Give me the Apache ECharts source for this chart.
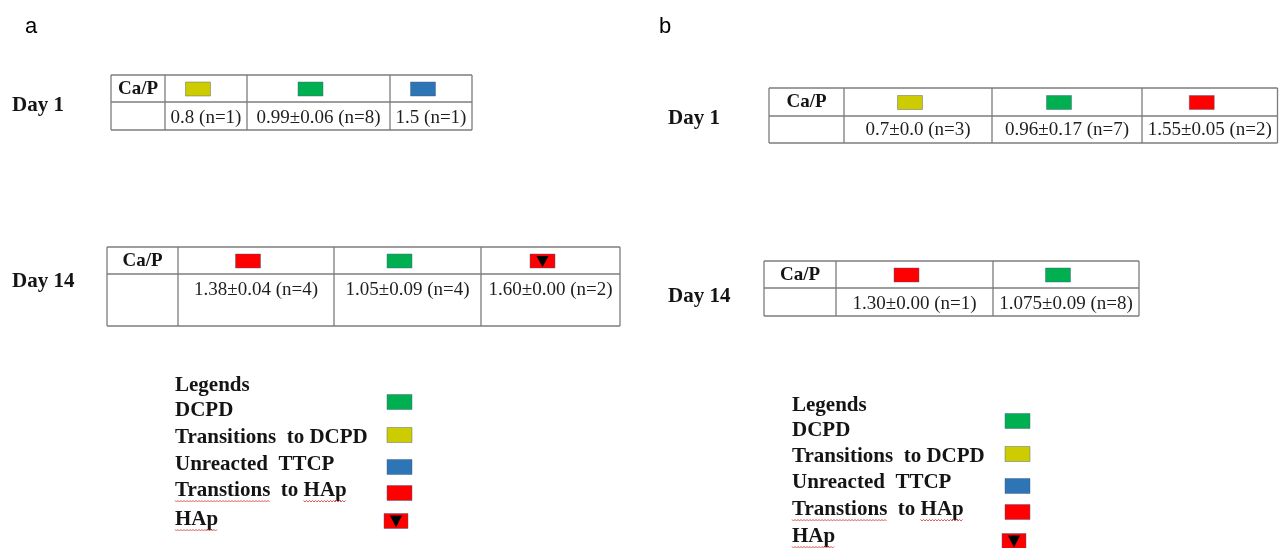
<!DOCTYPE html>
<html>
<head>
<meta charset="utf-8">
<script src="https://cdn.jsdelivr.net/npm/echarts@6/dist/echarts.min.js"></script>
<style>
  html, body { margin: 0; padding: 0; background: #ffffff; }
  #chart { width: 1279px; height: 548px; }
</style>
</head>
<body>
<div id="chart"></div>
<script>
// Calcium phosphate phases, in legend order
const phaseNames = ['DCPD', 'Transitions  to DCPD', 'Unreacted  TTCP', 'Transtions  to HAp', 'HAp'];
const phaseColors = ['#00b050', '#cccc00', '#2e75b6', '#ff0000', '#ff0000'];
const phaseHasMarker = [false, false, false, false, true];

// Panel a: Ca/P ratios per phase
const aDay1Phases = ['Transitions  to DCPD', 'DCPD', 'Unreacted  TTCP'];
const aDay1Ratios = ['0.8 (n=1)', '0.99±0.06 (n=8)', '1.5 (n=1)'];
const aDay14Phases = ['Transtions  to HAp', 'DCPD', 'HAp'];
const aDay14Ratios = ['1.38±0.04 (n=4)', '1.05±0.09 (n=4)', '1.60±0.00 (n=2)'];

// Panel b: Ca/P ratios per phase
const bDay1Phases = ['Transitions  to DCPD', 'DCPD', 'Transtions  to HAp'];
const bDay1Ratios = ['0.7±0.0 (n=3)', '0.96±0.17 (n=7)', '1.55±0.05 (n=2)'];
const bDay14Phases = ['Transtions  to HAp', 'DCPD'];
const bDay14Ratios = ['1.30±0.00 (n=1)', '1.075±0.09 (n=8)'];

// Headings
const panelTags = ['a', 'b'];
const dayLabels = ['Day 1', 'Day 14', 'Day 1', 'Day 14'];
const headerLabel = 'Ca/P';
const legendTitle = 'Legends';

// ---------- drawing ----------
const SERIF = '"Liberation Serif", "Times New Roman", serif';
const SANS = '"Liberation Sans", Arial, sans-serif';
const FONT_BOLD = 'bold 21px ' + SERIF;
const FONT_HEAD = 'bold 19px ' + SERIF;
const FONT_CELL = '19px ' + SERIF;
const INK = '#141414';
const GRID = '#7c7c7c';

const measureCtx = document.createElement('canvas').getContext('2d');
function textWidth(s, font) { measureCtx.font = font; return measureCtx.measureText(s).width; }

function text(x, y, s, font, align, fill) {
  return {
    type: 'text', x: x, y: y, silent: true,
    style: {
      text: s, font: font, fill: fill || INK,
      textAlign: align || 'left', textVerticalAlign: 'middle',
      align: align || 'left', verticalAlign: 'middle'
    }
  };
}
function line(x1, y1, x2, y2) {
  return { type: 'line', silent: true, shape: { x1: x1, y1: y1, x2: x2, y2: y2 },
           style: { stroke: GRID, lineWidth: 1.3 } };
}
function swatch(x, cy, w, h, phase) {
  const i = phaseNames.indexOf(phase);
  const y = cy - h / 2;
  const els = [{
    type: 'rect', silent: true, shape: { x: x, y: y, width: w, height: h },
    style: { fill: phaseColors[i], stroke: 'rgba(70,90,130,0.55)', lineWidth: 0.8 }
  }];
  if (phaseHasMarker[i]) {
    const cx = x + w / 2;
    els.push({
      type: 'polygon', silent: true,
      shape: { points: [[cx - 6, y + 2], [cx + 6, y + 2], [cx, y + h - 1]] },
      style: { fill: '#000000' }
    });
  }
  return els;
}
function squiggle(x1, x2, y) {
  const pts = [];
  let i = 0;
  for (let x = x1; x <= x2; x += 1.5, i++) pts.push([x, y + (i % 2 ? 1 : -0.6)]);
  return { type: 'polyline', silent: true, shape: { points: pts },
           style: { stroke: '#e05a5a', lineWidth: 1, fill: null } };
}

// Table geometry: column edges, row edges, where the day label and values sit
const tables = [
  { phases: aDay1Phases, ratios: aDay1Ratios, label: dayLabels[0],
    cols: [111, 165, 247, 390, 472], rows: [75, 102, 130], labelX: 12, labelY: 106, valueY: 118 },
  { phases: aDay14Phases, ratios: aDay14Ratios, label: dayLabels[1],
    cols: [107, 178, 334, 481, 620], rows: [247, 274, 326], labelX: 12, labelY: 282, valueY: 290 },
  { phases: bDay1Phases, ratios: bDay1Ratios, label: dayLabels[2],
    cols: [769, 844, 992, 1142, 1277.5], rows: [88, 116, 143], labelX: 668, labelY: 119, valueY: 130 },
  { phases: bDay14Phases, ratios: bDay14Ratios, label: dayLabels[3],
    cols: [764, 836, 993, 1139], rows: [261, 288, 316], labelX: 668, labelY: 297, valueY: 304 }
];

// Legend geometry for each panel
const legends = [
  { textX: 175, titleY: 386, rowY: [411, 438, 465, 491, 520],
    swatchX: 387, swatchY: [402, 435, 467, 493, 521] },
  { textX: 792, titleY: 406, rowY: [431, 457, 483, 510, 537],
    swatchX: 1005, swatchY: [421, 454, 486, 512, 541] }
];

const elements = [];

// panel tags
elements.push(text(25, 27, panelTags[0], '22px ' + SANS, 'left', '#000'));
elements.push(text(659, 27, panelTags[1], '22px ' + SANS, 'left', '#000'));

tables.forEach(function (t) {
  const c = t.cols, r = t.rows;
  const L = c[0], R = c[c.length - 1], T = r[0], B = r[r.length - 1];
  // borders
  elements.push(line(L, T, R, T));
  elements.push(line(L, r[1], R, r[1]));
  elements.push(line(L, B, R, B));
  c.forEach(function (x) { elements.push(line(x, T, x, B)); });
  // day label
  elements.push(text(t.labelX, t.labelY, t.label, FONT_BOLD, 'left'));
  // header cell
  const headY = (T + r[1]) / 2 + 0.5;
  elements.push(text((c[0] + c[1]) / 2, headY, headerLabel, FONT_HEAD, 'center'));
  // phase swatches and ratios
  t.phases.forEach(function (p, k) {
    const cx = (c[k + 1] + c[k + 2]) / 2;
    swatch(cx - 8 - 12.5, headY, 25, 14, p).forEach(function (e) { elements.push(e); });
    elements.push(text(cx, t.valueY, t.ratios[k], FONT_CELL, 'center', '#1e1e1e'));
  });
});

legends.forEach(function (g) {
  elements.push(text(g.textX, g.titleY, legendTitle, FONT_BOLD, 'left'));
  phaseNames.forEach(function (name, i) {
    const y = g.rowY[i];
    elements.push(text(g.textX, y, name, FONT_BOLD, 'left'));
    const hasMarker = phaseHasMarker[i];
    swatch(g.swatchX - (hasMarker ? 3 : 0), g.swatchY[i], hasMarker ? 24 : 25, 15, name)
      .forEach(function (e) { elements.push(e); });
    // spell-check underline under the flagged words
    if (name.indexOf('HAp') >= 0) {
      const uy = y + 10;
      if (name.indexOf('Transtions') === 0) {
        elements.push(squiggle(g.textX, g.textX + textWidth('Transtions', FONT_BOLD), uy));
      }
      const start = g.textX + textWidth(name.slice(0, name.indexOf('HAp')), FONT_BOLD);
      elements.push(squiggle(start, start + textWidth('HAp', FONT_BOLD), uy));
    }
  });
});

const chart = echarts.init(document.getElementById('chart'), null, { renderer: 'canvas' });
chart.setOption({
  backgroundColor: '#ffffff',
  animation: false,
  graphic: { elements: elements }
});
</script>
</body>
</html>
